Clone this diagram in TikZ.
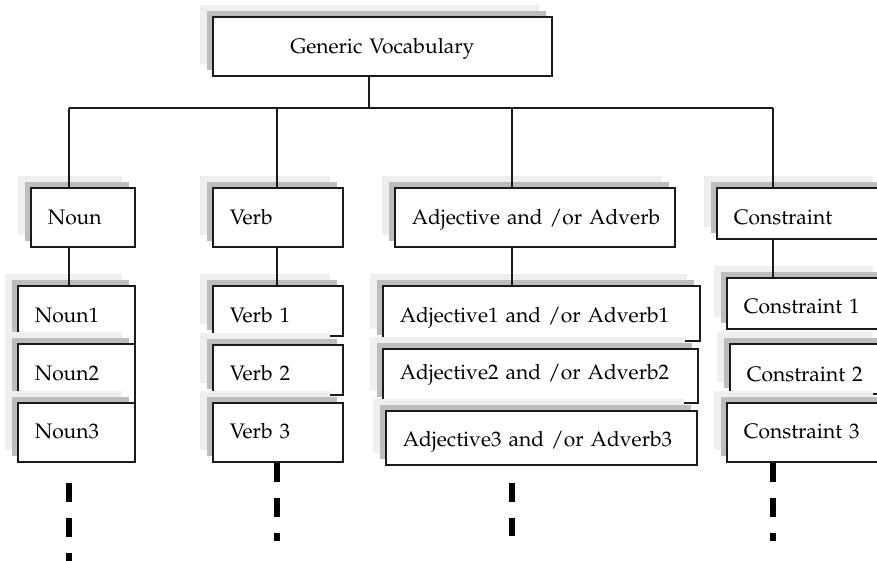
\documentclass[tikz,border=0pt]{standalone}
\usepackage[T1]{fontenc}
\usepackage{mathpazo}
\usetikzlibrary{shadows}
\definecolor{shadelight}{HTML}{EFEFEF}
\definecolor{shadedark}{HTML}{BDBDBD}
\definecolor{ink}{HTML}{1A1A1A}
\begin{document}
\begin{tikzpicture}[x=1pt,y=-1pt,
  font=\fontsize{21}{25}\selectfont,
  termbox/.style={draw=ink, line width=1.6pt, fill=white, anchor=north west,
    inner xsep=17pt, inner ysep=0pt, align=left, text depth=0pt,
    general shadow={fill=shadelight, shadow xshift=-13pt, shadow yshift=12pt},
    general shadow={fill=shadedark, shadow xshift=-6pt, shadow yshift=6pt}},
  wire/.style={draw=ink, line width=1.3pt},
  cont/.style={draw=black, line width=5.5pt, dash pattern=on 19pt off 16pt}]
\useasboundingbox (0,0) rectangle (877,561);
\clip (0,0) rectangle (877,561);

% root
\node[termbox, align=center, minimum width=339pt, minimum height=59pt,
  text width=305pt, text height=15pt] (gen) at (212,16) {Generic Vocabulary};

% categories
\node[termbox, minimum width=104pt, minimum height=59pt, text width=70pt, text height=15pt]
  (noun) at (30,187) {Noun};
\node[termbox, minimum width=130pt, minimum height=59pt, text width=96pt, text height=15pt]
  (verb) at (212,187) {Verb};
\node[termbox, minimum width=280pt, minimum height=59pt, text width=246pt, text height=15pt]
  (adj) at (394,187) {\mbox{Adjective and /or Adverb}};
\node[termbox, minimum width=169pt, minimum height=51pt, text width=135pt, text height=23pt]
  (cons) at (716,187) {Constraint};

% nouns
\node[termbox, minimum width=117pt, minimum height=58pt, text width=83pt, text height=16pt]
  (n1) at (17,285) {Noun1};
\node[termbox, minimum width=117pt, minimum height=59pt, text width=83pt, text height=15pt]
  (n2) at (17,343) {Noun2};
\node[termbox, minimum width=117pt, minimum height=59pt, text width=83pt, text height=13pt]
  (n3) at (17,402) {Noun3};

% verbs
\node[termbox, minimum width=130pt, minimum height=50pt, text width=96pt, text height=24pt]
  (v1) at (212,285) {Verb 1};
\node[termbox, minimum width=130pt, minimum height=50pt, text width=96pt, text height=22pt]
  (v2) at (212,344) {Verb 2};
\node[termbox, minimum width=130pt, minimum height=59pt, text width=96pt, text height=13pt]
  (v3) at (212,402) {Verb 3};

% adjectives / adverbs
\node[termbox, minimum width=317pt, minimum height=55pt, text width=283pt, text height=19pt]
  (a1) at (382,285) {\mbox{Adjective1 and /or Adverb1}};
\node[termbox, minimum width=315pt, minimum height=54pt, text width=281pt, text height=8pt]
  (a2) at (382,348) {\mbox{Adjective2 and /or Adverb2}};
\node[termbox, minimum width=311pt, minimum height=54pt, text width=277pt, text height=18pt]
  (a3) at (385,410) {\mbox{Adjective3 and /or Adverb3}};

% constraints
\node[termbox, minimum width=159pt, minimum height=51pt, text width=125pt, text height=21pt]
  (c1) at (726,277) {Constraint 1};
\node[termbox, minimum width=156pt, minimum height=50pt, text width=122pt, text height=26pt]
  (c2) at (729,343) {Constraint 2};
\node[termbox, minimum width=159pt, minimum height=59pt, text width=125pt, text height=13pt]
  (c3) at (726,402) {Constraint 3};

% junctions on the bus
\coordinate (hub) at (369,108);
\coordinate (jN) at (69,108);
\coordinate (jV) at (277,108);
\coordinate (jA) at (512,108);
\coordinate (jC) at (773,108);

\draw[wire] (hub |- gen.south) -- (hub);
\draw[wire] (jN) -- (jC);
\draw[wire] (jN) -- (jN |- noun.north);
\draw[wire] (jV) -- (jV |- verb.north);
\draw[wire] (jA) -- (jA |- adj.north);
\draw[wire] (jC) -- (jC |- cons.north);
\draw[wire] (jN |- noun.south) -- (jN |- n1.north);
\draw[wire] (jV |- verb.south) -- (jV |- v1.north);
\draw[wire] (jA |- adj.south) -- (jA |- a1.north);
\draw[wire] (jC |- cons.south) -- (jC |- c1.north);

% continuation marks
\draw[cont] (jN |- n3.south) ++(0,20) -- ++(0,79);
\draw[cont] (jV |- v3.south) -- ++(0,78);
\draw[cont] (jA |- a3.south) ++(0,17) -- ++(0,53);
\draw[cont] (jC |- c3.south) -- ++(0,78);
\end{tikzpicture}
\end{document}
